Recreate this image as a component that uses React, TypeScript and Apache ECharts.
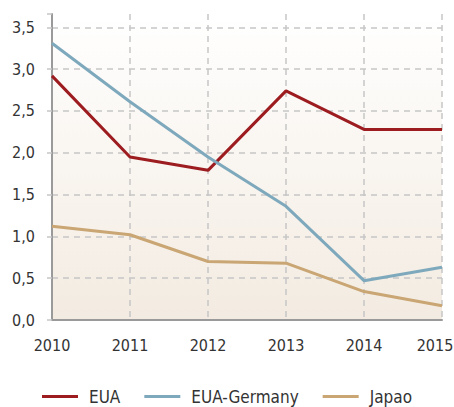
import React, { useEffect, useRef } from "react";
import * as echarts from "echarts";

const years = ["2010", "2011", "2012", "2013", "2014", "2015"];
const eua = [2.92, 1.95, 1.79, 2.74, 2.28, 2.28];
const euaGermany = [3.31, 2.61, 1.95, 1.36, 0.47, 0.63];
const japao = [1.12, 1.02, 0.7, 0.68, 0.34, 0.17];
const seriesNames = ["EUA", "EUA-Germany", "Japao"];
const colors = ["#9c1c20", "#7ea9bd", "#c9a673"];

const FONT = "'DejaVu Sans Condensed', 'DejaVu Sans', sans-serif";

export default function App() {
  const ref = useRef<HTMLDivElement>(null);
  useEffect(() => {
    const chart = echarts.init(ref.current!, null, { renderer: "svg" });
    const gridColors = ["#c6c6c6", "#c6c6c6", "#c6c6c6", "#c6c6c6", "#c6c6c6", "#c6c6c6", "#c6c6c6", "#c6c6c6", "rgba(0,0,0,0)"];
    const lastYear = years[years.length - 1];
    chart.setOption({
      animation: false,
      textStyle: { fontFamily: FONT },
      grid: {
        left: 52,
        right: 12,
        top: 14,
        bottom: 87,
        outerBoundsMode: "none",
        containLabel: false,
        show: true,
        borderWidth: 0,
        backgroundColor: new echarts.graphic.LinearGradient(0, 0, 0, 1, [
          { offset: 0, color: "#ffffff" },
          { offset: 1, color: "#f3ebe1" },
        ]),
      },
      legend: {
        bottom: 2,
        left: "center",
        padding: [0, 5],
        icon: "rect",
        itemWidth: 36,
        itemHeight: 3,
        itemGap: 24,
        textStyle: { fontFamily: FONT, fontSize: 17, color: "#333", padding: [0, 0, 0, 6] },
        data: seriesNames,
      },
      xAxis: {
        type: "category",
        data: years,
        boundaryGap: false,
        axisLine: { show: true, lineStyle: { color: "#9a9a9a", width: 2 } },
        axisTick: { show: false },
        axisLabel: {
          interval: 0,
          fontFamily: FONT,
          fontSize: 16,
          color: "#333",
          margin: 17,
          showMaxLabel: true,
          hideOverlap: false,
          formatter: (v: string) => (v === lastYear ? "{last|" + v + "}" : v),
          rich: { last: { fontFamily: FONT, fontSize: 16, color: "#333", padding: [0, 14, 0, 0] } },
        },
        splitLine: { show: true, interval: 0, lineStyle: { color: "#c6c6c6", type: [6, 5], width: 1.5 } },
      },
      yAxis: {
        type: "value",
        min: 0,
        max: 3.66,
        interval: 0.5,
        axisLine: { show: true, lineStyle: { color: "#9a9a9a", width: 2 } },
        axisTick: { show: true, length: 5, lineStyle: { color: "#c6c6c6", width: 1.5 } },
        axisLabel: {
          fontFamily: FONT,
          fontSize: 16,
          color: "#333",
          margin: 17,
          formatter: (v: number) => (Math.abs(v / 0.5 - Math.round(v / 0.5)) < 1e-6 ? v.toFixed(1).replace(".", ",") : ""),
        },
        splitLine: { show: true, lineStyle: { color: gridColors, type: [6, 5], width: 1.5 } },
      },
      series: [
        { name: seriesNames[0], type: "line", data: eua, color: colors[0], showSymbol: false, lineStyle: { width: 3 } },
        { name: seriesNames[1], type: "line", data: euaGermany, color: colors[1], showSymbol: false, lineStyle: { width: 3 } },
        { name: seriesNames[2], type: "line", data: japao, color: colors[2], showSymbol: false, lineStyle: { width: 3 } },
      ],
    });
    return () => chart.dispose();
  }, []);
  return <div ref={ref} style={{ width: 454, height: 407, position: "absolute", left: 0, top: 0 }} />;
}
